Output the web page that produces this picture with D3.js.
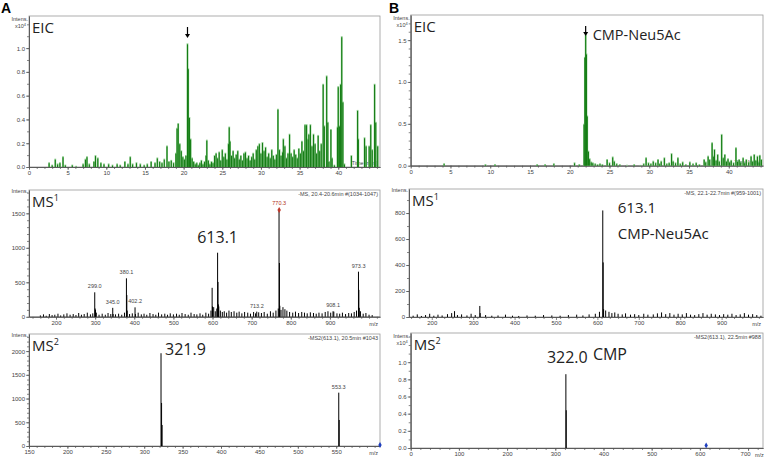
<!DOCTYPE html>
<html>
<head>
<meta charset="utf-8" />
<title>EIC / MS1 / MS2</title>
<script src="https://d3js.org/d3.v7.min.js"></script>
<style>
  body { margin: 0; background: #fff; }
  .tick text { font-family: "Liberation Sans", Arial, sans-serif; font-size: 6px; fill: #444; }
  .tick line, .domain { stroke: #555; }
  .small { font-family: "Liberation Sans", Arial, sans-serif; font-size: 5.5px; fill: #444; }
  .big { font-family: "Open Sans", sans-serif; fill: #222; }
  .letter { font-family: "Liberation Sans", Arial, sans-serif; font-weight: bold; font-size: 14px; fill: #000; }
</style>
</head>
<body>
<script>
// ---- data: [time (min), intensity x10^4]
var eicA = [[2.6,0.04],[3.0,0.02],[3.4,0.07],[3.7,0.03],[4.0,0.04],[4.4,0.09],[4.7,0.02],
  [5.6,0.02],[6.1,0.01],[7.0,0.03],[7.3,0.07],[7.5,0.09],[7.8,0.03],
  [8.4,0.05],[8.6,0.10],[8.9,0.08],[9.3,0.04],[9.7,0.03],[10.3,0.03],[10.8,0.02],[11.4,0.03],[11.8,0.02],
  [12.4,0.05],[12.8,0.03],[13.1,0.09],[13.4,0.03],[13.9,0.04],[14.4,0.03],[14.9,0.02],[15.3,0.03],[15.8,0.05],
  [16.3,0.04],[16.6,0.08],[16.9,0.05],[17.2,0.04],[17.5,0.07],[17.85,0.18],[18.1,0.05],[18.4,0.06],[18.7,0.04],
  [19.0,0.12],[19.15,0.33],[19.3,0.37],[19.5,0.2],[19.7,0.14],[19.9,0.09],[20.1,0.07],[20.3,0.1],
  [20.5,1.04],[20.6,0.83],[20.75,0.42],[20.9,0.24],[21.1,0.08],[21.3,0.05],[21.5,0.03],[21.7,0.04],[21.9,0.02],
  [22.1,0.04],[22.3,0.06],[22.5,0.03],[22.7,0.05],[22.9,0.1],[23.0,0.23],[23.2,0.06],[23.4,0.03],[23.6,0.05],[23.8,0.04],
  [24.0,0.1],[24.2,0.12],[24.4,0.08],[24.6,0.13],[24.8,0.06],[25.0,0.15],[25.2,0.09],[25.4,0.12],[25.6,0.07],
  [25.8,0.2],[25.9,0.34],[26.0,0.22],[26.2,0.1],[26.4,0.14],[26.6,0.08],[26.8,0.11],[27.0,0.14],[27.2,0.07],
  [27.4,0.1],[27.6,0.06],[27.8,0.12],[28.0,0.13],[28.2,0.08],[28.4,0.1],[28.6,0.06],[28.8,0.09],[29.0,0.12],
  [29.2,0.07],[29.4,0.15],[29.6,0.18],[29.8,0.2],[30.0,0.12],[30.2,0.21],[30.4,0.14],[30.6,0.17],[30.8,0.09],
  [31.0,0.12],[31.2,0.08],[31.4,0.15],[31.6,0.1],[31.8,0.07],[32.0,0.11],[32.2,0.49],[32.4,0.15],[32.6,0.1],
  [32.8,0.13],[32.9,0.24],[33.1,0.18],[33.3,0.08],[33.5,0.12],[33.7,0.28],[33.9,0.12],[34.1,0.09],[34.3,0.15],
  [34.5,0.11],[34.7,0.08],[34.9,0.16],[35.1,0.12],[35.3,0.22],[35.5,0.14],[35.7,0.36],[35.9,0.36],[36.1,0.24],
  [36.2,0.28],[36.4,0.36],[36.6,0.18],[36.8,0.28],[37.0,0.2],[37.2,0.12],[37.4,0.27],[37.6,0.14],[37.8,0.2],
  [38.05,0.7],[38.2,0.35],[38.5,0.77],[38.65,0.38],[38.8,0.05],[39.05,0.32],[39.2,0.08],[39.5,0.02],
  [39.9,0.34],[40.0,0.68],[40.15,0.35],[40.3,0.7],[40.45,1.1],[40.6,0.55],[40.8,0.03],
  [41.7,0.1],[42.5,0.48],[42.6,0.24],[43.4,0.25],[43.6,0.18],[44.0,0.18],[44.2,0.36],[44.4,0.15],
  [44.7,0.7],[44.85,0.38],[45.1,0.18]];

var eicB = [[4.2,0.03],[9.4,0.02],[10.6,0.02],[15.9,0.02],[16.9,0.02],[18.0,0.03],[20.6,0.04],[21.2,0.02],
  [21.8,0.5],[21.9,1.3],[22.0,1.57],[22.1,1.34],[22.2,0.6],[22.35,0.18],[22.5,0.09],[22.7,0.05],[22.9,0.04],
  [23.2,0.03],[23.5,0.02],[23.8,0.03],[24.1,0.02],
  [24.7,0.08],[25.0,0.04],[25.4,0.11],[25.6,0.06],[25.9,0.03],[26.3,0.02],[27.2,0.01],[28.1,0.02],[28.9,0.01],
  [29.3,0.03],[29.6,0.1],[29.9,0.04],[30.2,0.03],[30.5,0.06],[30.8,0.04],[31.1,0.08],[31.3,0.03],[31.5,0.06],
  [31.9,0.1],[32.2,0.03],[32.5,0.04],[32.8,0.15],[33.0,0.06],[33.3,0.04],[33.6,0.1],[33.9,0.03],[34.2,0.05],
  [34.6,0.02],[35.1,0.05],[35.5,0.03],[35.9,0.04],[36.3,0.02],[36.9,0.08],[37.1,0.05],[37.4,0.12],[37.6,0.08],
  [37.9,0.28],[38.1,0.12],[38.2,0.2],[38.4,0.07],[38.6,0.14],[38.8,0.06],[39.1,0.38],[39.3,0.1],[39.5,0.14],
  [39.7,0.06],[39.9,0.09],[40.1,0.05],[40.3,0.07],[40.6,0.04],[40.9,0.22],[41.1,0.06],[41.3,0.08],[41.5,0.05],
  [41.8,0.1],[42.0,0.04],[42.2,0.08],[42.5,0.05],[42.8,0.12],[43.0,0.06],[43.2,0.14],[43.4,0.07],[43.6,0.12],
  [43.8,0.05],[43.9,0.13],[44.1,0.08]];

// ---- data: [m/z, intensity]
var ms1A = [[160,20],[168,35],[175,15],[183,40],[190,25],[197,30],[205,45],[212,20],[220,35],[228,50],
  [236,30],[244,40],[251,25],[258,55],[265,30],[272,40],[280,60],[288,35],[294,50],
  [299,355],[300,120],[301,100],[303,60],[310,30],[318,45],[326,30],[333,55],[340,40],[345,130],[346,40],
  [352,35],[360,45],[368,30],[375,60],[380,558],[381,315],[382,90],[388,40],[395,50],[402,137],[403,40],
  [410,60],[418,35],[425,45],[432,30],[440,55],[448,40],[455,30],[462,60],[470,35],[478,45],[485,30],
  [492,50],[500,35],[508,45],[515,30],[522,55],[530,40],[538,30],[545,60],[553,40],[560,35],[568,50],
  [575,30],[583,60],[590,45],[596,90],[599,420],[600,150],[603,140],[607,80],[611,120],[613,929],[614,505],
  [615,180],[616,150],[620,90],[625,70],[630,80],[636,60],[642,90],[648,70],[655,80],[662,60],[668,75],
  [675,50],[682,70],[690,60],[697,45],[705,70],[710,50],[713,75],[718,65],[725,55],[732,70],[740,45],
  [748,80],[755,60],[762,90],[768,120],[770,1548],[771,780],[772,160],[775,100],[780,140],[785,110],
  [790,90],[797,70],[805,60],[812,75],[820,55],[828,70],[835,60],[842,50],[850,65],[858,55],[865,45],
  [872,60],[880,50],[888,70],[895,80],[902,60],[908,80],[910,75],[918,50],[925,45],[932,60],[940,40],
  [948,55],[955,50],[962,70],[968,90],[973,654],[974,390],[975,130],[978,80],[985,45],[992,55],[1000,30],[1008,25]];
var ms1ALabels = [[299.0,355],[345.0,130],[380.1,558],[402.2,137],[713.2,75],[908.1,80],[973.3,654]];
var ms1AMarked = [770.3,1548];

var ms1B = [[155,10],[165,20],[175,8],[185,15],[195,25],[205,10],[215,18],[225,12],[238,22],[248,30],
  [255,45],[262,15],[272,20],[285,12],[295,25],[305,15],[316,85],[317,30],[330,15],[345,10],[360,12],
  [378,18],[395,10],[410,8],[430,12],[450,10],[470,15],[490,12],[510,10],[530,15],[550,18],[565,12],
  [580,20],[595,25],[605,40],[613,820],[614,420],[615,60],[620,50],[628,40],[635,30],[642,35],[650,25],
  [660,20],[668,28],[680,18],[690,22],[700,15],[712,25],[722,18],[735,20],[745,28],[755,35],[765,22],
  [775,30],[785,18],[795,25],[805,20],[815,30],[825,18],[835,15],[845,22],[855,30],[865,18],[875,25],
  [885,20],[895,15],[905,22],[915,18],[925,25],[935,15],[945,20],[955,30],[965,18],[975,22],[985,15],[995,10]];

var ms2A = [[321.9,1955],[322.6,907],[323.3,443],[553.3,1124],[553.9,548]];
var ms2APrecursor = [607,0];
var ms2B = [[322.0,0.86],[322.7,0.44]];
var ms2BPrecursor = [613.1,0.03];

// ---- ticks
var eicATicks = [0,5,10,15,20,25,30,35,40], eicAYTicks = [0,0.2,0.4,0.6,0.8,1.0];
var eicBTicks = [0,5,10,15,20,25,30,35,40], eicBYTicks = [0,0.5,1.0,1.5];
var ms1AXTicks = [200,300,400,500,600,700,800,900], ms1AYTicks = [0,500,1000,1500];
var ms1BXTicks = [200,300,400,500,600,700,800,900], ms1BYTicks = [0,200,400,600,800];
var ms2AXTicks = [150,200,250,300,350,400,450,500,550], ms2AYTicks = [0,500,1000,1500,2000];
var ms2BXTicks = [0,100,200,300,400,500,600,700], ms2BYTicks = [0,0.2,0.4,0.6,0.8,1.0];

var svg = d3.select("body").append("svg")
    .attr("width", 770)
    .attr("height", 459);

function minor(lo, hi, step) {
    return d3.range(lo, hi + step / 2, step);
}

function panel(o) {
    var g = svg.append("g");
    var x = d3.scaleLinear().domain(o.xd).range([o.l, o.r]);
    var y = d3.scaleLinear().domain(o.yd).range([o.b, o.t]);

    g.append("rect")
        .attr("x", o.l).attr("y", o.t)
        .attr("width", o.r - o.l).attr("height", o.b - o.t)
        .attr("fill", "none").attr("stroke", "#9a9a9a").attr("stroke-width", 0.8);

    // minor ticks first, then the labelled ones
    g.append("g").attr("transform", "translate(0," + o.b + ")")
        .call(d3.axisBottom(x).tickValues(o.xMinor).tickSize(2).tickSizeOuter(0).tickFormat(""));
    g.append("g").attr("transform", "translate(0," + o.b + ")")
        .call(d3.axisBottom(x).tickValues(o.xTicks).tickSize(3).tickSizeOuter(0).tickPadding(1).tickFormat(o.xFmt));
    g.append("g").attr("transform", "translate(" + o.l + ",0)")
        .call(d3.axisLeft(y).tickValues(o.yMinor).tickSize(2).tickSizeOuter(0).tickFormat(""));
    g.append("g").attr("transform", "translate(" + o.l + ",0)")
        .call(d3.axisLeft(y).tickValues(o.yTicks).tickSize(3).tickSizeOuter(0).tickPadding(1).tickFormat(o.yFmt));
    g.selectAll(".domain").attr("stroke-width", 0.8);
    g.selectAll(".tick line").attr("stroke-width", 0.7);

    var iy = o.t + (o.exp ? 5 : 3);
    g.append("text").attr("class", "small")
        .attr("x", o.l - 1).attr("y", iy).attr("text-anchor", "end").text("Intens.");
    if (o.exp) {
        var t = g.append("text").attr("class", "small")
            .attr("x", o.l - 3).attr("y", iy + 7).attr("text-anchor", "end").text("x10");
        t.append("tspan").attr("dy", -2).style("font-size", "4px").text("4");
    }
    if (o.header) {
        g.append("text").attr("class", "small")
            .attr("x", o.r - 2).attr("y", o.t + 6).attr("text-anchor", "end").text(o.header);
    }
    if (o.xUnit === "time") {
        g.append("text").attr("class", "small")
            .attr("x", o.r - 3).attr("y", o.b - 2).attr("text-anchor", "end").text("Time [min]");
    } else {
        g.append("text").attr("class", "small")
            .attr("x", o.unitX || (o.r - 2)).attr("y", o.b + 9)
            .attr("text-anchor", o.unitX ? "start" : "end").text("m/z");
    }

    var t2 = g.append("text").attr("class", "big")
        .attr("x", o.l + 3).attr("y", o.t + 17).style("font-size", "15px").text(o.name);
    if (o.sup) {
        t2.append("tspan").attr("dy", -6).style("font-size", "9px").text(o.sup);
    }

    var sticks = g.append("g");
    if (o.green) {
        sticks.selectAll(".lt").data(o.data).enter().append("line")
            .attr("x1", function (d) { return x(d[0]); })
            .attr("x2", function (d) { return x(d[0]); })
            .attr("y1", y(0))
            .attr("y2", function (d) { return y(d[1]); })
            .attr("stroke", "#8ccb8c").attr("stroke-width", 1.8);
        sticks.selectAll(".dk").data(o.data).enter().append("line")
            .attr("x1", function (d) { return x(d[0]); })
            .attr("x2", function (d) { return x(d[0]); })
            .attr("y1", y(0))
            .attr("y2", function (d) { return y(d[1]) + 1; })
            .attr("stroke", "#157d15").attr("stroke-width", 1.1);
    } else {
        sticks.selectAll("line").data(o.data).enter().append("line")
            .attr("x1", function (d) { return x(d[0]); })
            .attr("x2", function (d) { return x(d[0]); })
            .attr("y1", y(0))
            .attr("y2", function (d) { return y(d[1]); })
            .attr("stroke", "#000").attr("stroke-width", 1);
    }
    return { g: g, x: x, y: y };
}

function diamond(g, cx, cy, color) {
    g.append("path")
        .attr("d", d3.symbol().type(d3.symbolDiamond).size(10)())
        .attr("transform", "translate(" + cx + "," + cy + ")")
        .attr("fill", color);
}

function arrow(g, cx, y0, y1) {
    g.append("line").attr("x1", cx).attr("x2", cx).attr("y1", y0).attr("y2", y1 - 3)
        .attr("stroke", "#000").attr("stroke-width", 1.2);
    g.append("path")
        .attr("d", "M" + (cx - 2.5) + "," + (y1 - 4) + "L" + (cx + 2.5) + "," + (y1 - 4) + "L" + cx + "," + y1 + "Z")
        .attr("fill", "#000");
}

var f1 = d3.format(".1f"), fd = d3.format("d");

// ---- A EIC
var pA1 = panel({ l: 29, r: 380, t: 16, b: 167, xd: [0, 45.4], yd: [0, 1.27],
    xTicks: eicATicks, xMinor: minor(0, 45, 1), yTicks: eicAYTicks, yMinor: minor(0, 1.2, 0.1),
    xFmt: fd, yFmt: f1, exp: true, xUnit: "time", name: "EIC", data: eicA, green: true });
arrow(pA1.g, pA1.x(20.5), 27, 38);

// ---- B EIC
var pB1 = panel({ l: 410.7, r: 763, t: 15, b: 165.7, xd: [0, 44.3], yd: [0, 1.80],
    xTicks: eicBTicks, xMinor: minor(0, 44, 1), yTicks: eicBYTicks, yMinor: minor(0, 1.7, 0.1),
    xFmt: fd, yFmt: f1, exp: true, xUnit: "time", name: "EIC", data: eicB, green: true });
arrow(pB1.g, pB1.x(22.0), 26, 36);
pB1.g.append("text").attr("class", "big").style("font-size", "14.5px")
    .attr("x", pB1.x(22.0) + 7).attr("y", 40).text("CMP-Neu5Ac");

// ---- A MS1
var pA2 = panel({ l: 29, r: 380, t: 190, b: 316.8, xd: [131, 1028], yd: [0, 1838],
    xTicks: ms1AXTicks, xMinor: minor(140, 1020, 20), yTicks: ms1AYTicks, yMinor: minor(0, 1800, 100),
    xFmt: fd, yFmt: fd, exp: false, header: "-MS, 20.4-20.6min #(1034-1047)", name: "MS", sup: "1", data: ms1A });
pA2.g.selectAll(".plab").data(ms1ALabels).enter().append("text").attr("class", "small")
    .attr("x", function (d) { return pA2.x(d[0]); })
    .attr("y", function (d) { return pA2.y(d[1]) - 4; })
    .attr("text-anchor", "middle").text(function (d) { return d[0].toFixed(1); });
diamond(pA2.g, pA2.x(ms1AMarked[0]), pA2.y(ms1AMarked[1]), "#c0392b");
pA2.g.append("text").attr("class", "small").style("fill", "#b03020")
    .attr("x", pA2.x(ms1AMarked[0])).attr("y", pA2.y(ms1AMarked[1]) - 5)
    .attr("text-anchor", "middle").text(ms1AMarked[0].toFixed(1));
pA2.g.append("text").attr("class", "big").style("font-size", "16px")
    .attr("x", pA2.x(613)).attr("y", pA2.y(1070)).attr("text-anchor", "middle").text("613.1");

// ---- B MS1
var pB2 = panel({ l: 409, r: 763, t: 189, b: 317, xd: [145, 1000], yd: [0, 985],
    xTicks: ms1BXTicks, xMinor: minor(150, 1000, 20), yTicks: ms1BYTicks, yMinor: minor(0, 900, 100),
    xFmt: fd, yFmt: fd, exp: false, header: "-MS, 22.1-22.7min #(959-1001)", name: "MS", sup: "1", data: ms1B });
pB2.g.append("text").attr("class", "big").style("font-size", "15px")
    .attr("x", pB2.x(613) + 15).attr("y", pB2.y(800)).text("613.1");
pB2.g.append("text").attr("class", "big").style("font-size", "15px")
    .attr("x", pB2.x(613) + 15).attr("y", pB2.y(600)).text("CMP-Neu5Ac");

// ---- A MS2
var pA3 = panel({ l: 29, r: 380, t: 334, b: 446, xd: [150, 607], yd: [0, 2360],
    xTicks: ms2AXTicks, xMinor: minor(150, 600, 10), yTicks: ms2AYTicks, yMinor: minor(0, 2300, 100),
    xFmt: fd, yFmt: fd, exp: false, header: "-MS2(613.1), 20.5min #1043", name: "MS", sup: "2", data: ms2A });
pA3.g.append("text").attr("class", "small")
    .attr("x", pA3.x(553.3)).attr("y", pA3.y(1124) - 4).attr("text-anchor", "middle").text("553.3");
diamond(pA3.g, pA3.x(ms2APrecursor[0]), pA3.y(ms2APrecursor[1]) - 1, "#1f3fbf");
pA3.g.append("text").attr("class", "big").style("font-size", "16px")
    .attr("x", pA3.x(321.9) + 4).attr("y", pA3.y(1920)).text("321.9");

// ---- B MS2
var pB3 = panel({ l: 410.7, r: 763, t: 333, b: 448, xd: [0, 731], yd: [0, 1.34],
    xTicks: ms2BXTicks, xMinor: minor(0, 720, 20), yTicks: ms2BYTicks, yMinor: minor(0, 1.3, 0.1),
    xFmt: fd, yFmt: f1, exp: true, header: "-MS2(613.1), 22.5min #988", name: "MS", sup: "2", data: ms2B,
    unitX: 755 });
diamond(pB3.g, pB3.x(ms2BPrecursor[0]), pB3.y(ms2BPrecursor[1]), "#1f3fbf");
pB3.g.selectAll(".tick text").filter(function (d) { return d === 700; })
    .attr("text-anchor", "end").attr("dx", 2);
pB3.g.append("text").attr("class", "big").style("font-size", "16px")
    .attr("x", pB3.x(322.0) - 19).attr("y", pB3.y(1.0) + 1).text("322.0 ");
pB3.g.append("text").attr("class", "big").style("font-size", "16px")
    .attr("x", pB3.x(322.0) + 27).attr("y", pB3.y(1.0) - 2).text("CMP");

// panel letters
svg.append("text").attr("class", "letter").attr("x", 1).attr("y", 13).text("A");
svg.append("text").attr("class", "letter").attr("x", 389).attr("y", 13).text("B");
</script>
</body>
</html>
